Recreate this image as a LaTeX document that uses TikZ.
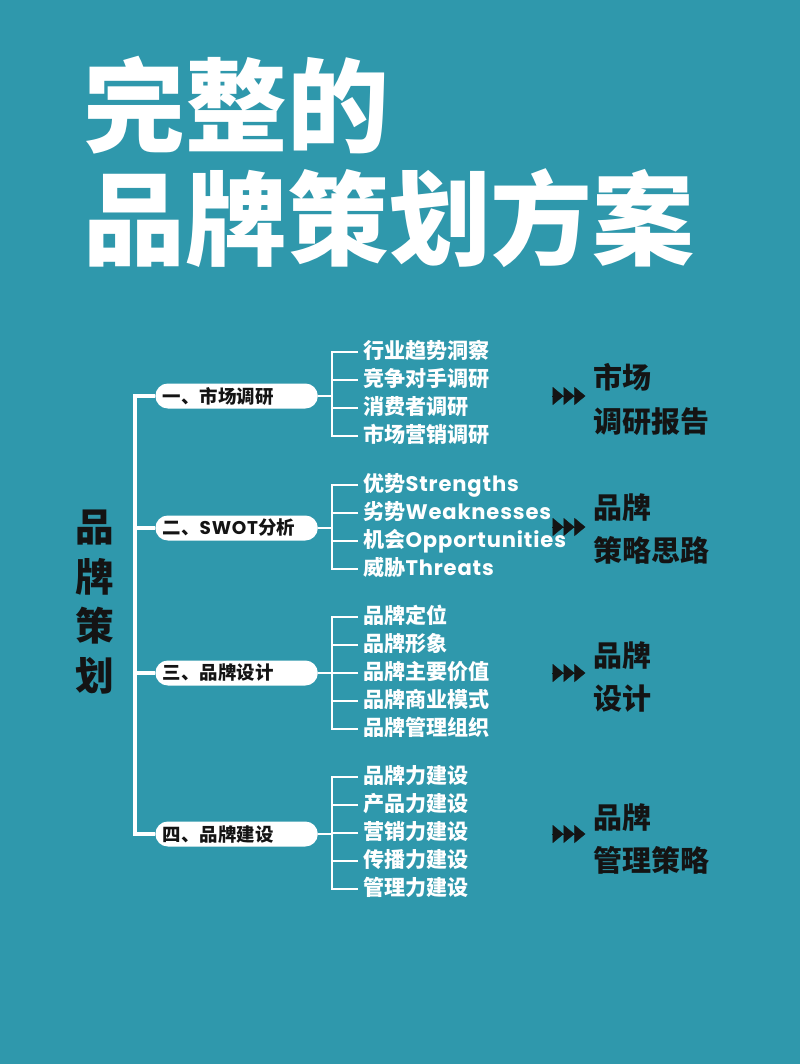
\documentclass[tikz,border=0pt]{standalone}
\usepackage{fontspec}
\newfontfamily\cjk{Noto Sans CJK SC}
\newfontfamily\cjkheavy{Noto Sans CJK SC Black}
\newfontfamily\pop{Poppins}[LetterSpace=4]
\usetikzlibrary{positioning,arrows.meta}
\definecolor{bgteal}{RGB}{47,152,172}
\definecolor{ink}{RGB}{20,20,20}

\begin{document}
\begin{tikzpicture}[x=0.02cm, y=-0.02cm, node distance=0.56cm]
  \tikzstyle{title} = [anchor=west, inner sep=0pt, text=white,
    font=\cjkheavy\fontsize{58}{60}\selectfont]
  \tikzstyle{vtitle} = [align=center, inner sep=0pt, text=ink,
    font=\cjkheavy\fontsize{22}{28.3}\selectfont]
  \tikzstyle{pill} = [rectangle, anchor=west, fill=white, rounded corners=0.25cm,
    text width=2.95cm, minimum height=0.5cm, inner xsep=0.15cm, inner ysep=0pt,
    align=left, text=ink, font=\cjk\bfseries\fontsize{10.5}{12}\selectfont]
  \tikzstyle{item} = [anchor=west, inner sep=0.1cm, text=white,
    text height=0.9em, text depth=0.15em,
    font=\cjk\bfseries\fontsize{12}{14}\selectfont]
  \tikzstyle{result} = [anchor=west, align=left, inner sep=0pt, text=ink,
    font=\cjk\bfseries\fontsize{16.5}{25}\selectfont]
  \tikzstyle{line} = [draw=white, line width=1.2pt]
  \tikzstyle{trunk} = [draw=white, line width=1.8pt]
  \tikzstyle{triple} = [draw=ink, line width=0.2pt,
    -{Triangle[length=6.2pt,width=10.2pt]Triangle[length=6.2pt,width=10.2pt]Triangle[length=6.2pt,width=10.2pt]}]

  % Background
  \fill[bgteal] (0,0) rectangle (800,1064);
  \useasboundingbox (0,0) rectangle (800,1064);

  % Place nodes
  \node [title] (t1) at (83,105) {完整的};
  \node [title] (t2) at (83,218) {品牌策划方案};
  \node [vtitle] (vt) at (95,602) {品\\牌\\策\\划};

  \node [pill] (p1) at (155,396) {一、市场调研};
  \node [pill] (p2) at (155,528) {二、{\pop SWOT}分析};
  \node [pill] (p3) at (155,673) {三、品牌设计};
  \node [pill] (p4) at (155,834) {四、品牌建设};

  \node [item] (i11) at (358,352) {行业趋势洞察};
  \node [item, below=of i11.west, anchor=west] (i12) {竞争对手调研};
  \node [item, below=of i12.west, anchor=west] (i13) {消费者调研};
  \node [item, below=of i13.west, anchor=west] (i14) {市场营销调研};

  \node [item] (i21) at (358,485) {优势{\pop Strengths}};
  \node [item, below=of i21.west, anchor=west] (i22) {劣势{\pop Weaknesses}};
  \node [item, below=of i22.west, anchor=west] (i23) {机会{\pop Opportunities}};
  \node [item, below=of i23.west, anchor=west] (i24) {威胁{\pop Threats}};

  \node [item] (i31) at (358,617) {品牌定位};
  \node [item, below=of i31.west, anchor=west] (i32) {品牌形象};
  \node [item, below=of i32.west, anchor=west] (i33) {品牌主要价值};
  \node [item, below=of i33.west, anchor=west] (i34) {品牌商业模式};
  \node [item, below=of i34.west, anchor=west] (i35) {品牌管理组织};

  \node [item] (i41) at (358,777) {品牌力建设};
  \node [item, below=of i41.west, anchor=west] (i42) {产品力建设};
  \node [item, below=of i42.west, anchor=west] (i43) {营销力建设};
  \node [item, below=of i43.west, anchor=west] (i44) {传播力建设};
  \node [item, below=of i44.west, anchor=west] (i45) {管理力建设};

  \node [result] (r1) at (593,399) {市场\\调研报告};
  \node [result] (r2) at (593,529) {品牌\\策略思路};
  \node [result] (r3) at (593,677) {品牌\\设计};
  \node [result] (r4) at (593,839) {品牌\\管理策略};

  \coordinate (tr) at (135,615);
  \coordinate (b1) at (332,396);
  \coordinate (b2) at (332,528);
  \coordinate (b3) at (332,673);
  \coordinate (b4) at (332,834);
  \coordinate (a1) at (552,396);
  \coordinate (a2) at (552,527);
  \coordinate (a3) at (552,673);
  \coordinate (a4) at (552,834);

  % Draw edges
  \path [trunk] (p1.west) -| (tr);
  \path [trunk] (p2.west) -| (tr);
  \path [trunk] (p3.west) -| (tr);
  \path [trunk] (p4.west) -| (tr);

  \path [line] (p1.east) -- (b1);
  \path [line] (i11.west) -| (b1);
  \path [line] (i12.west) -| (b1);
  \path [line] (i13.west) -| (b1);
  \path [line] (i14.west) -| (b1);

  \path [line] (p2.east) -- (b2);
  \path [line] (i21.west) -| (b2);
  \path [line] (i22.west) -| (b2);
  \path [line] (i23.west) -| (b2);
  \path [line] (i24.west) -| (b2);

  \path [line] (p3.east) -- (b3);
  \path [line] (i31.west) -| (b3);
  \path [line] (i32.west) -| (b3);
  \path [line] (i33.west) -| (b3);
  \path [line] (i34.west) -| (b3);
  \path [line] (i35.west) -| (b3);

  \path [line] (p4.east) -- (b4);
  \path [line] (i41.west) -| (b4);
  \path [line] (i42.west) -| (b4);
  \path [line] (i43.west) -| (b4);
  \path [line] (i44.west) -| (b4);
  \path [line] (i45.west) -| (b4);

  \draw [triple] (a1) -- ++(19pt,0);
  \draw [triple] (a2) -- ++(19pt,0);
  \draw [triple] (a3) -- ++(19pt,0);
  \draw [triple] (a4) -- ++(19pt,0);

\end{tikzpicture}
\end{document}
